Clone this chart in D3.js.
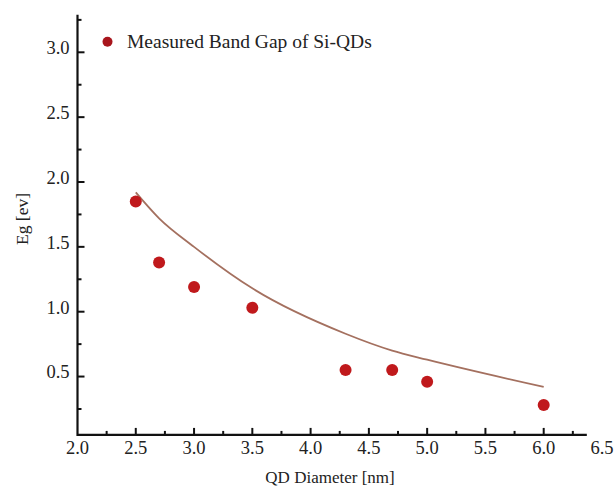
<!DOCTYPE html>
<html><head><meta charset="utf-8">
<script src="https://cdn.jsdelivr.net/npm/d3@7"></script>
<style>body{margin:0;background:#fff}svg{display:block}</style>
</head><body><svg id="c" width="614" height="488"></svg>
<script>
const diameters = [2.5, 2.7, 3.0, 3.5, 4.3, 4.7, 5.0, 6.0];
const measuredEg = [1.85, 1.38, 1.19, 1.03, 0.55, 0.55, 0.46, 0.28];
const theoryX = [2.5, 2.7, 3.0, 3.5, 4.3, 4.7, 5.0, 6.0];
const theoryEg = [1.92, 1.72, 1.50, 1.18, 0.83, 0.70, 0.63, 0.42];
const xTicks = [2.0, 2.5, 3.0, 3.5, 4.0, 4.5, 5.0, 5.5, 6.0, 6.5];
const xMinor = [2.25, 2.75, 3.25, 3.75, 4.25, 4.75, 5.25, 5.75, 6.25];
const yTicks = [0.5, 1.0, 1.5, 2.0, 2.5, 3.0];
const yMinor = [0.25, 0.75, 1.25, 1.75, 2.25, 2.75, 3.25];
const legendLabel = "Measured Band Gap of Si-QDs";

const FONT = "'Times New Roman', 'Liberation Serif', 'DejaVu Serif', serif";
const svg = d3.select("#c").attr("font-family", FONT);
const x = d3.scaleLinear().domain([2, 6]).range([77.5, 543.7]);
const y = d3.scaleLinear().domain([0, 3]).range([441.4, 52.3]);
const x0 = x(2), yBot = y(0.05), yTop = y(3.29), xEnd = x(6.37);

svg.append("path")
  .datum(theoryX.map((d,i)=>[d, theoryEg[i]]))
  .attr("d", d3.line().x(d=>x(d[0])).y(d=>y(d[1])).curve(d3.curveMonotoneX))
  .attr("fill","none").attr("stroke","#a4705f").attr("stroke-width",1.8);

svg.selectAll("circle.pt").data(diameters).join("circle")
  .attr("class","pt")
  .attr("cx", d=>x(d)).attr("cy",(d,i)=>y(measuredEg[i]))
  .attr("r",6).attr("fill","#c0191c");

const xAxis = svg.append("g").attr("transform",`translate(0,${yBot})`);
xAxis.append("line").attr("x1",x0).attr("x2",xEnd).attr("stroke","#111").attr("stroke-width",2.2);
xAxis.selectAll("line.maj").data(xTicks.filter(d=>d>2 && d<6.4)).join("line").attr("class","maj")
  .attr("x1",d=>x(d)).attr("x2",d=>x(d)).attr("y1",0).attr("y2",-7).attr("stroke","#111").attr("stroke-width",2);
xAxis.selectAll("line.min").data(xMinor).join("line").attr("class","min")
  .attr("x1",d=>x(d)).attr("x2",d=>x(d)).attr("y1",0).attr("y2",-4).attr("stroke","#111").attr("stroke-width",2);
xAxis.selectAll("text").data(xTicks).join("text")
  .attr("x",d=>x(d)).attr("y",19).attr("text-anchor","middle").attr("font-size",18.5).attr("fill","#222")
  .attr("font-family",FONT).text(d=>d.toFixed(1));

const yAxis = svg.append("g").attr("transform",`translate(${x0},0)`);
yAxis.append("line").attr("y1",yBot+1).attr("y2",yTop).attr("stroke","#111").attr("stroke-width",2.2);
yAxis.selectAll("line.maj").data(yTicks).join("line").attr("class","maj")
  .attr("y1",d=>y(d)).attr("y2",d=>y(d)).attr("x1",0).attr("x2",7).attr("stroke","#111").attr("stroke-width",2);
yAxis.selectAll("line.min").data(yMinor).join("line").attr("class","min")
  .attr("y1",d=>y(d)).attr("y2",d=>y(d)).attr("x1",0).attr("x2",4).attr("stroke","#111").attr("stroke-width",2);
yAxis.selectAll("text").data(yTicks).join("text")
  .attr("x",-8).attr("y",d=>y(d)).attr("dy","0.1em").attr("text-anchor","end").attr("font-size",18.5).attr("fill","#222")
  .attr("font-family",FONT).text(d=>d.toFixed(1));

svg.append("text").attr("x",330).attr("y",483).attr("text-anchor","middle").attr("font-size",17).attr("fill","#222")
  .attr("font-family",FONT).text("QD Diameter [nm]");
svg.append("text").attr("transform","translate(28,219) rotate(-90)").attr("text-anchor","middle").attr("font-size",17.5).attr("fill","#222")
  .attr("font-family",FONT).text("Eg [ev]");

svg.append("circle").attr("cx",107.5).attr("cy",41.7).attr("r",5).attr("fill","#a8151c");
svg.append("text").attr("x",127).attr("y",48).attr("font-size",19.5).attr("fill","#222")
  .attr("font-family",FONT).text(legendLabel);
</script></body></html>
